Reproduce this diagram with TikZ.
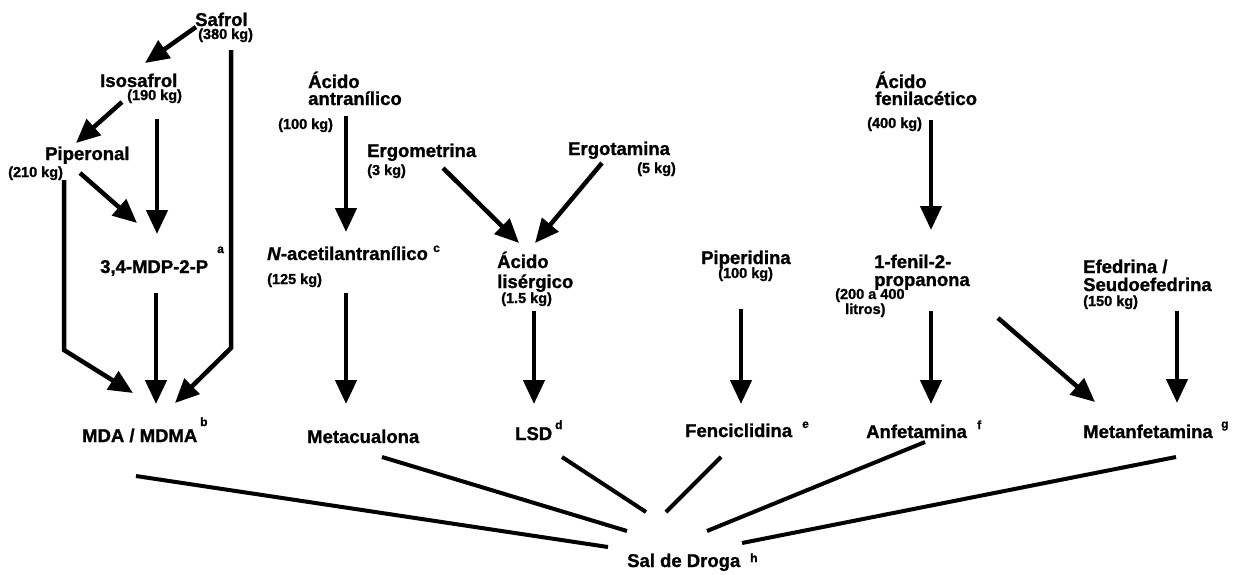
\documentclass[tikz,border=0pt]{standalone}
\usepackage{fontspec}
\setmainfont{Liberation Sans}[BoldFeatures={FakeBold=1.2}, BoldItalicFeatures={FakeBold=1.2}]
\usetikzlibrary{arrows.meta}

\tikzset{
  lbl/.style={anchor=base west, inner sep=0pt, font=\bfseries\fontsize{18.5}{20}\selectfont},
  qty/.style={anchor=base west, inner sep=0pt, font=\bfseries\fontsize{14.5}{16}\selectfont},
  note/.style={anchor=base west, inner sep=0pt, font=\bfseries\fontsize{12}{13}\selectfont},
  arr/.style={line width=4.5pt, -{Triangle[length=24pt,width=21pt]}},
  link/.style={line width=4pt},
}

\begin{document}
\begin{tikzpicture}[x=1pt, y=-1pt]
  \useasboundingbox (0,0) rectangle (1238,574);
  % Safrol branch
  \node[lbl] (safrol)    at (195,26)  {Safrol};
  \node[qty] (q380)      at (198,39)  {(380 kg)};
  \node[lbl] (isosafrol) at (100,87)  {Isosafrol};
  \node[qty] (q190)      at (127,100) {(190 kg)};
  \node[lbl] (piperonal) at (45,160)  {Piperonal};
  \node[qty] (q210)      at (8,177)   {(210 kg)};
  \node[lbl] (mdp)       at (100,273) {3,4-MDP-2-P};
  \node[note]            at (217,253) {a};
  % Acido antranilico branch
  \node[lbl] (acant1) at (308,88)  {Ácido};
  \node[lbl] (acant)  at (308,105) {antranílico};
  \node[qty] (q100a)  at (278,129) {(100 kg)};
  \node[lbl] (nacet)  at (267,260) {\textit{N}-acetilantranílico};
  \node[note]         at (433,252) {c};
  \node[qty] (q125)   at (267,284) {(125 kg)};
  % Ergot branch
  \node[lbl] (ergomet) at (367,157) {Ergometrina};
  \node[qty] (q3)      at (367,175) {(3 kg)};
  \node[lbl] (ergotam) at (568,155) {Ergotamina};
  \node[qty] (q5)      at (637,173) {(5 kg)};
  \node[lbl] (aclis1)  at (497,268) {Ácido};
  \node[lbl] (aclis)   at (497,288) {lisérgico};
  \node[qty] (q15)     at (501,303) {(1.5 kg)};
  % Piperidina
  \node[lbl] (piperid) at (701,264) {Piperidina};
  \node[qty] (q100b)   at (718,278) {(100 kg)};
  % Acido fenilacetico branch
  \node[lbl] (acfen1)   at (875,88)  {Ácido};
  \node[lbl] (acfen)    at (875,105) {fenilacético};
  \node[qty] (q400)     at (867,128) {(400 kg)};
  \node[lbl] (fenprop1) at (874,268) {1-fenil-2-};
  \node[lbl] (fenprop)  at (874,286) {propanona};
  \node[qty] (q200)     at (835,299) {(200 a 400};
  \node[qty] (q200b)    at (845,314) {litros)};
  \node[lbl] (efed1)    at (1083,273) {Efedrina /};
  \node[lbl] (efed)     at (1083,291) {Seudoefedrina};
  \node[qty] (q150)     at (1083,306) {(150 kg)};
  % Drugs
  \node[lbl] (mdma)   at (82,442)   {MDA / MDMA};
  \node[note]         at (200,426)  {b};
  \node[lbl] (metac)  at (307,443)  {Metacualona};
  \node[lbl] (lsd)    at (515,440)  {LSD};
  \node[note]         at (555,429)  {d};
  \node[lbl] (fenc)   at (685,437)  {Fenciclidina};
  \node[note]         at (802,428)  {e};
  \node[lbl] (anfet)  at (866,438)  {Anfetamina};
  \node[note]         at (977,429)  {f};
  \node[lbl] (metanf) at (1083,438) {Metanfetamina};
  \node[note]         at (1221,428) {g};
  \node[lbl] (sal)    at (627,567)  {Sal de Droga};
  \node[note]         at (750,562)  {h};

  % Arrows
  \draw[arr] ([shift={(1,1)}]safrol.base west) -- ([shift={(45,-24)}]isosafrol.base west);
  \draw[arr] ([shift={(22,15)}]isosafrol.base west) -- ([shift={(31,-17)}]piperonal.base west);
  \draw[arr] ([shift={(57,32)}]isosafrol.base west) -- ([shift={(57,-39)}]mdp.base west);
  \draw[arr] ([shift={(35,13)}]piperonal.base west) -- ([shift={(37,-50)}]mdp.base west);
  \draw[arr] ([shift={(19,20)}]piperonal.base west) -- ++(0,170) -- ([shift={(51,-49)}]mdma.base west);
  \draw[arr] ([shift={(56,20)}]mdp.base west) -- ([shift={(74,-38)}]mdma.base west);
  \draw[arr] ([shift={(36,24)}]safrol.base west) -- ++(0,298) -- ([shift={(93,-39)}]mdma.base west);
  \draw[arr] ([shift={(38,11)}]acant.base west) -- ([shift={(79,-28)}]nacet.base west);
  \draw[arr] ([shift={(79,33)}]nacet.base west) -- ([shift={(39,-39)}]metac.base west);
  \draw[arr] ([shift={(76,11)}]ergomet.base west) -- ([shift={(22,-25)}]aclis1.base west);
  \draw[arr] ([shift={(34,8)}]ergotam.base west) -- ([shift={(38,-25)}]aclis1.base west);
  \draw[arr] ([shift={(37,23)}]aclis.base west) -- ([shift={(19,-36)}]lsd.base west);
  \draw[arr] ([shift={(40,45)}]piperid.base west) -- ([shift={(56,-33)}]fenc.base west);
  \draw[arr] ([shift={(56,15)}]acfen.base west) -- ([shift={(57,-38)}]fenprop1.base west);
  \draw[arr] ([shift={(57,25)}]fenprop.base west) -- ([shift={(65,-34)}]anfet.base west);
  \draw[arr] ([shift={(124,32)}]fenprop.base west) -- ([shift={(12,-36)}]metanf.base west);
  \draw[arr] ([shift={(94,20)}]efed.base west) -- ([shift={(94,-35)}]metanf.base west);

  % Lines to the salt
  \foreach \n/\a/\b/\c/\d in {mdma/54/34/-19/-20, metac/75/14/0/-36, lsd/47/17/19/-55,
      fenc/36/20/39/-55, anfet/59/4/80/-36, metanf/93/19/115/-24}
    \draw[link] ([shift={(\a,\b)}]\n.base west) -- ([shift={(\c,\d)}]sal.base west);
\end{tikzpicture}
\end{document}
